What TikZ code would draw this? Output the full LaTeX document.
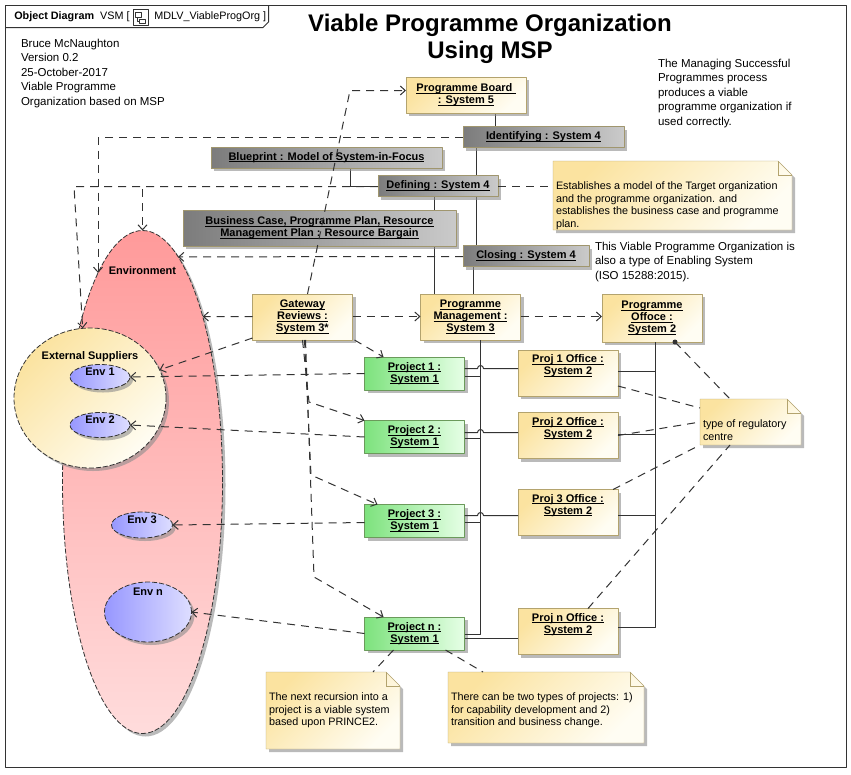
\documentclass[tikz,border=0pt]{standalone}
\usepackage{fontspec}
\setmainfont{Liberation Sans}
\usetikzlibrary{shapes.geometric,shadows,arrows.meta,backgrounds}
\definecolor{ylo}{HTML}{FBE3A0}
\definecolor{yhi}{HTML}{FFFDF3}
\definecolor{yline}{HTML}{B3A36E}
\definecolor{glo}{HTML}{7DE27D}
\definecolor{ghi}{HTML}{E6FFE6}
\definecolor{gline}{HTML}{6B9A5B}
\definecolor{dlo}{HTML}{7C7C7C}
\definecolor{dhi}{HTML}{CACACA}
\definecolor{dline}{HTML}{A0966E}
\definecolor{rtop}{HTML}{FF9A9A}
\definecolor{rbot}{HTML}{FFDCDC}
\definecolor{blo}{HTML}{9797FF}
\definecolor{bhi}{HTML}{DEDEFF}
\definecolor{ink}{HTML}{333333}
\newcommand{\uln}[1]{\underline{\vphantom{A}\smash{#1}}}
\newcommand{\boxfont}{\fontsize{11}{12}\selectfont\bfseries}
\newcommand{\txtfont}{\fontsize{11.5}{14.5}\selectfont}
\newcommand{\notefont}{\fontsize{10.8}{12.5}\selectfont}
\newcommand{\titlefont}{\fontsize{24}{27}\selectfont\bfseries}
\newcommand{\tabfont}{\fontsize{10.8}{12}\selectfont}
% note body with folded corner, drawn behind the text
\newcommand{\notefold}[1]{%
	\begin{pgfonlayer}{background}
		\path[notebg] (#1.north west) -- ([xshift=-14pt]#1.north east) -- ([yshift=-14pt]#1.north east) -- (#1.south east) -- (#1.south west) -- cycle;
		\draw[yline] ([xshift=-14pt]#1.north east) |- ([yshift=-14pt]#1.north east);
	\end{pgfonlayer}}
\begin{document}
\begin{tikzpicture}[x=1pt, y=-1pt, line width=.8pt, line join=round, >={Straight Barb[length=5pt, width=9pt]},
	every node/.style={outer sep=0pt},
	shad/.style={drop shadow={shadow xshift=3pt, shadow yshift=-3pt, fill=black!45, opacity=.6}},
	box/.style={draw=yline, top color=ylo, bottom color=yhi, shading angle=45, shad, align=center, font=\boxfont, inner sep=1pt, minimum width=100pt},
	gbox/.style={draw=dline, left color=dlo, right color=dhi, shad, align=center, font=\boxfont, inner sep=1pt, minimum height=21pt},
	pbox/.style={draw=gline, left color=glo, right color=ghi, shad, align=center, font=\boxfont, inner sep=1pt, minimum width=100pt, minimum height=33pt},
	blbl/.style={anchor=north, yshift=-5pt, align=center, font=\boxfont, inner sep=0pt},
	elbl/.style={anchor=north, font=\boxfont, inner sep=0pt},
	envr/.style={ellipse, draw=ink, dash pattern=on 5pt off 2pt, top color=rtop, bottom color=rbot, shad},
	envy/.style={ellipse, draw=ink, dash pattern=on 5pt off 2pt, top color=ylo, bottom color=yhi, shading angle=45, shad},
	envb/.style={ellipse, draw=ink, dash pattern=on 5pt off 2pt, left color=blo, right color=bhi, shad},
	notebg/.style={draw=yline, top color=ylo, bottom color=yhi, shading angle=45, shad},
	ntxt/.style={anchor=north west, xshift=3pt, yshift=-21pt, align=left, font=\notefont, inner sep=0pt},
	txt/.style={anchor=north west, align=left, font=\txtfont, inner sep=0pt},
	dep/.style={draw=ink, line width=1pt, dash pattern=on 8pt off 6pt, ->},
	nline/.style={draw=ink, line width=1pt, dash pattern=on 8pt off 6pt},
	tree/.style={draw=ink, line width=1pt}]
	\useasboundingbox (0,0) rectangle (851,774);
	% frame and tab
	\draw[ink, line width=1pt] (5.5,5.5) rectangle (846.5,767.5);
	\draw[ink, line width=1pt] (5.5,27.5) -- (263,27.5) -- (268.5,22) -- (268.5,5.5);
	\node[anchor=west, font=\tabfont] (tabl) at (11,16.5) {\textbf{Object Diagram}\ \ VSM [};
	\node[anchor=west, font=\tabfont] (tabr) at (151,16.5) {MDLV\_ViableProgOrg ]};
	\draw[ink, line width=.6pt] (133,9) rectangle (148,25) (135.5,12.5) rectangle (141.5,17) (139.5,19) rectangle (145.5,23);
	\draw[ink, line width=.6pt] (137,17) |- (139.5,21);
	% texts
	\node[font=\titlefont, align=center, inner sep=0pt] (title) at (490,38.5) {Viable Programme Organization\\Using MSP};
	\node[txt] (auth) at (21,39) {Bruce McNaughton\\Version 0.2\\25-October-2017\\Viable Programme\\Organization based on MSP};
	\node[txt] (intro) at (658,59) {The Managing Successful\\Programmes process\\produces a viable\\programme organization if\\used correctly.};
	\node[txt] (iso) at (595,242) {This Viable Programme Organization is\\also a type of Enabling System\\(ISO 15288:2015).};
	% environment
	\node[envr, minimum width=160pt, minimum height=503pt, label={[elbl, yshift=-36pt]north:Environment}] (env) at (142.5,482) {};
	\node[envy, minimum width=152pt, minimum height=140pt, label={[elbl, yshift=-24pt]north:External Suppliers}] (extsup) at (90,398) {};
	\node[envb, minimum width=60pt, minimum height=25pt, label={[elbl, yshift=-3.5pt]north:Env 1}] (env1) at (100,377) {};
	\node[envb, minimum width=60pt, minimum height=25pt, label={[elbl, yshift=-3.5pt]north:Env 2}] (env2) at (100,425) {};
	\node[envb, minimum width=61pt, minimum height=26pt, label={[elbl, yshift=-3.5pt]north:Env 3}] (env3) at (142,525) {};
	\node[envb, minimum width=87pt, minimum height=60pt, label={[elbl, yshift=-6pt]north:Env n}] (envn) at (148,612) {};
	% system 5 and system 4
	\node[box, minimum width=120pt, minimum height=36pt] (pb) at (466,95) {\uln{Programme Board\ }\\\uln{: System 5}};
	\node[gbox, minimum width=161pt] (ident) at (543.5,137) {\uln{Identifying : System 4}};
	\node[gbox, minimum width=231pt] (blue) at (326.5,157.5) {\uln{Blueprint : Model of System-in-Focus}};
	\node[gbox, minimum width=120pt] (defin) at (438,186) {\uln{Defining : System 4}};
	\node[gbox, minimum width=273pt, minimum height=36pt] (bcase) at (319.5,228) {\uln{Business Case, Programme Plan, Resource}\\\uln{Management Plan : Resource Bargain}};
	\node[gbox, minimum width=126pt] (closing) at (526,256) {\uln{Closing : System 4}};
	% system 3 and 2
	\node[box, minimum height=46pt] (gr) at (302.5,317) {\uln{Gateway}\\\uln{Reviews :}\\\uln{System 3*}};
	\node[box, minimum height=46pt] (pm) at (470.5,317) {\uln{Programme}\\\uln{Management :}\\\uln{System 3}};
	\node[box, minimum height=48pt] (po) at (652,318) {\uln{Programme}\\\uln{Offoce :}\\\uln{System 2}};
	% projects
	\node[pbox] (prj1) at (414.5,373.5) {\uln{Project 1 :}\\\uln{System 1}};
	\node[pbox] (prj2) at (414.5,437) {\uln{Project 2 :}\\\uln{System 1}};
	\node[pbox] (prj3) at (414.5,521) {\uln{Project 3 :}\\\uln{System 1}};
	\node[pbox] (prjn) at (414.5,633.5) {\uln{Project n :}\\\uln{System 1}};
	\node[box, minimum height=46pt, label={[blbl]north:{\uln{Proj 1 Office :}\\\uln{System 2}}}] (off1) at (568,373) {};
	\node[box, minimum height=46pt, label={[blbl]north:{\uln{Proj 2 Office :}\\\uln{System 2}}}] (off2) at (568,435.5) {};
	\node[box, minimum height=46pt, label={[blbl]north:{\uln{Proj 3 Office :}\\\uln{System 2}}}] (off3) at (568,512.5) {};
	\node[box, minimum height=46pt, label={[blbl]north:{\uln{Proj n Office :}\\\uln{System 2}}}] (offn) at (568,631.5) {};
	% notes
	\node[minimum width=239pt, minimum height=69pt, label={[ntxt]north west:{Establishes a model of the Target organization\\and the programme organization. and\\establishes the business case and programme\\plan.}}] (note1) at (672.5,195.5) {};
	\notefold{note1}
	\node[minimum width=101pt, minimum height=46pt, label={[ntxt]north west:{type of regulatory\\centre}}] (note2) at (750.5,422) {};
	\notefold{note2}
	\node[minimum width=134pt, minimum height=77pt, label={[ntxt]north west:{The next recursion into a\\project is a viable system\\based upon PRINCE2.}}] (note3) at (333,710.5) {};
	\notefold{note3}
	\node[minimum width=196pt, minimum height=71pt, label={[ntxt]north west:{There can be two types of projects: 1)\\for capability development and 2)\\transition and business change.}}] (note4) at (546,707.5) {};
	\notefold{note4}
	% solid links behind the boxes
	\begin{pgfonlayer}{background}
		\draw[tree] (pb.south -| 495.5,0) -- (ident.north -| 495.5,0);
		\draw[tree] (ident.south -| 476.5,0) -- (closing.north -| 476.5,0);
		\draw[tree] (closing.south -| 473.5,0) -- (pm.north -| 473.5,0);
		\draw[tree] (defin.south -| 434.5,0) -- (pm.north -| 434.5,0);
		\draw[tree] (blue.south -| 350.5,0) |- (defin.west);
	\end{pgfonlayer}
	\draw[tree] (prj1.east |- 0,376.5) -| (pm.south -| 480.5,0);
	\draw[tree] (prj2.east |- 0,438.5) -| (pm.south -| 480.5,0);
	\draw[tree] (prj3.east |- 0,522.5) -| (pm.south -| 480.5,0);
	\draw[tree] (prjn.east |- 0,634.5) -| (pm.south -| 480.5,0);
	\draw[tree] (prj1.east |- 0,368.5) -- (477.5,368.5) arc[start angle=180, end angle=0, radius=3pt] -- (off1.west |- 0,368.5);
	\draw[tree] (prj2.east |- 0,432.5) -- (477.5,432.5) arc[start angle=180, end angle=0, radius=3pt] -- (off2.west |- 0,432.5);
	\draw[tree] (prj3.east |- 0,515.5) -- (477.5,515.5) arc[start angle=180, end angle=0, radius=3pt] -- (off3.west |- 0,515.5);
	\draw[tree] (prjn.east |- 0,638.5) -- (offn.west |- 0,638.5);
	\draw[tree] (off1.east |- 0,371.5) -| (po.south -| 655.5,0);
	\draw[tree] (off2.east |- 0,434.5) -| (po.south -| 655.5,0);
	\draw[tree] (off3.east |- 0,515.5) -| (po.south -| 655.5,0);
	\draw[tree] (offn.east |- 0,627.5) -| (po.south -| 655.5,0);
	% dependencies
	\draw[dep] ([xshift=5pt]gr.north) -- (350,90.5) -- (pb.west |- 0,90.5);
	\draw[dep] (ident.west |- 0,137.5) -| (env.102);
	\draw[dep] (defin.west |- 0,186.5) -- (74,186.5) -- (extsup.96);
	\draw[dep] (defin.west |- 0,186.5) -| (env.north);
	\draw[dep] (closing.west |- 0,256.5) -- (env.81);
	\draw[dep] (gr.west |- 0,316.5) -- (env.70);
	\draw[dep] ([yshift=2pt]gr.south west) -- (extsup.22);
	\draw[dep] (gr.east |- 0,316.5) -- (pm.west |- 0,316.5);
	\draw[dep] (pm.east |- 0,316.5) -- (po.west |- 0,316.5);
	\draw[dep] ([xshift=2pt]gr.south east) -- ([xshift=19pt]prj1.north west);
	\draw[dep] (gr.south) -- (309,402) -- (prj2.north west);
	\draw[dep] ([xshift=2pt]gr.south) -- (311,475) -- ([xshift=13pt]prj3.north west);
	\draw[dep] ([xshift=3pt]gr.south) -- (314,577) -- ([xshift=19pt]prjn.north west);
	\draw[dep] (prj1.west) -- (env1.east);
	\draw[dep] (prj2.west) -- (env2.east);
	\draw[dep] (prj3.west |- 0,522.5) -- (env3.east);
	\draw[dep] (prjn.west) -- (envn.east);
	% note links
	\draw[nline] (defin.east |- 0,186.5) -- (note1.west |- 0,186.5);
	\fill[ink] ([xshift=-27pt]po.south east) circle (2.5pt);
	\draw[nline] ([xshift=-27pt]po.south east) -- ([xshift=30pt]note2.north west);
	\draw[nline] ([yshift=-13pt]off1.east) -- ([yshift=-9pt]note2.north west);
	\draw[nline] (off2.east) -- (note2.west);
	\draw[nline] ([xshift=-5pt]off3.north east) -- (note2.south west);
	\draw[nline] ([xshift=-30pt]offn.north east) -- ([xshift=30pt]note2.south west);
	\draw[nline] ([xshift=-21pt]prjn.south) -- ([xshift=-27pt]note3.north east);
	\draw[nline] ([xshift=31pt]prjn.south) -- ([xshift=35pt]note4.north west);
\end{tikzpicture}
\end{document}
